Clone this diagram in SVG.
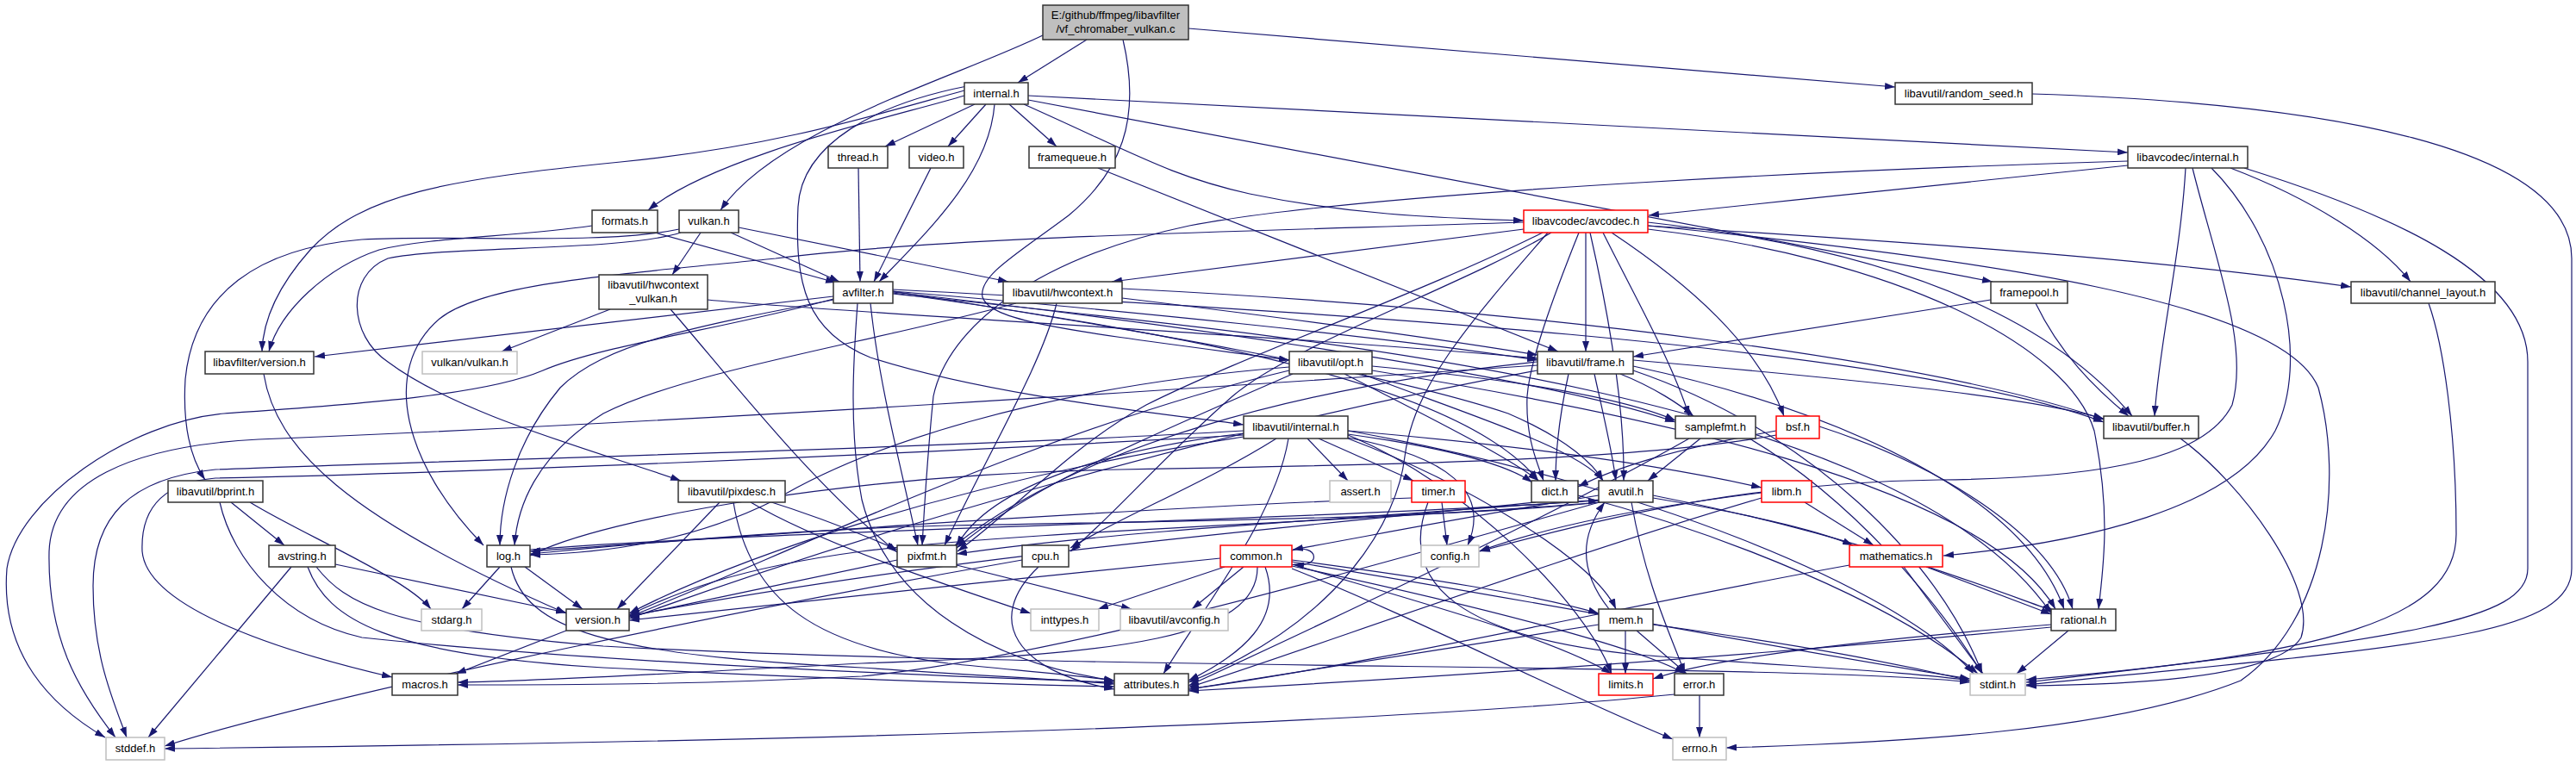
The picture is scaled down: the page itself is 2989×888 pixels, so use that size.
<svg xmlns="http://www.w3.org/2000/svg" width="2989" height="888" viewBox="0 0 2989 888">
<style>
.e{fill:none;stroke:#191970;stroke-width:1.2;marker-end:url(#a)}
.n rect{fill:#fff;stroke:#333;stroke-width:1.5}
.g rect{fill:#fff;stroke:#bfbfbf;stroke-width:1.5}
.r rect{fill:#fff;stroke:#ff0000;stroke-width:1.5}
.root rect{fill:#bfbfbf;stroke:#333;stroke-width:1.5}
text{font-family:"Liberation Sans",Arial,sans-serif;font-size:13px;fill:#000;text-anchor:middle}
</style>
<defs>
<marker id="a" markerUnits="userSpaceOnUse" markerWidth="12" markerHeight="8" refX="12" refY="4" orient="auto">
<path d="M0,0 L12,4 L0,8 z" fill="#191970"/>
</marker>
</defs>
<rect x="0" y="0" width="2989" height="888" fill="#fff"/>
<g id="edges">
<path class="e" d="M1261,46 L1181,96"/>
<path class="e" d="M1212,40 C1110,90 900,150 836,244"/>
<path class="e" d="M1379,33 L2199,101"/>
<path class="e" d="M1303,46 C1325,140 1300,200 1240,250 C1180,295 1135,320 1140,345 C1150,375 1250,385 1496,418"/>
<path class="e" d="M1119,111 C1040,135 830,180 752,244"/>
<path class="e" d="M1119,105 C1010,135 900,170 720,188 C520,208 420,225 360,290 C320,335 305,375 304,408"/>
<path class="e" d="M1122,100 C1020,120 930,165 926,240 C922,330 935,385 1010,415 C1150,460 1350,480 1443,493"/>
<path class="e" d="M1131,121 L1027,170"/>
<path class="e" d="M1144,121 L1100,170"/>
<path class="e" d="M1171,121 L1226,170"/>
<path class="e" d="M1154,121 C1148,200 1080,265 1020,327"/>
<path class="e" d="M1188,121 C1320,180 1360,205 1450,225 C1560,248 1660,253 1768,256"/>
<path class="e" d="M1193,116 L2312,327"/>
<path class="e" d="M1193,111 L2469,177"/>
<path class="e" d="M848,270 L974,327"/>
<path class="e" d="M813,270 L780,319"/>
<path class="e" d="M857,264 L1170,327"/>
<path class="e" d="M788,266 C700,285 520,272 420,278 C300,288 225,340 215,440 C212,490 220,530 238,557"/>
<path class="e" d="M790,270 C720,292 520,285 450,300 C400,320 405,390 450,420 C530,480 680,520 790,558"/>
<path class="e" d="M760,270 L970,328"/>
<path class="e" d="M687,262 C600,275 500,275 440,290 C380,310 325,360 312,408"/>
<path class="e" d="M996,195 L998,327"/>
<path class="e" d="M1080,195 L1014,327"/>
<path class="e" d="M1274,195 L1808,408"/>
<path class="e" d="M2469,192 C2300,210 2100,230 1913,250"/>
<path class="e" d="M2469,187 C2200,195 1600,220 1380,262 C1200,300 1100,380 1083,460 C1075,540 1072,600 1070,633"/>
<path class="e" d="M2536,195 C2530,300 2505,400 2500,483"/>
<path class="e" d="M2588,195 C2680,230 2760,280 2797,327"/>
<path class="e" d="M2566,195 C2650,280 2680,420 2640,500 C2590,590 2420,630 2255,645"/>
<path class="e" d="M2544,195 C2570,300 2610,400 2590,470 C2560,530 2450,555 2250,557 C2050,560 1900,590 1717,640"/>
<path class="e" d="M2604,195 C2780,250 2933,320 2933,420 L2933,660 C2933,720 2800,740 2351,792"/>
<path class="e" d="M2358,109 C2700,120 2984,170 2984,300 L2984,660 C2984,740 2800,750 2351,795"/>
<path class="e" d="M2818,352 C2835,400 2850,500 2850,620 C2850,720 2700,760 2351,789"/>
<path class="e" d="M1768,266 L1290,327"/>
<path class="e" d="M1768,258 C1400,270 1100,275 900,300 C700,320 560,330 510,370 C440,430 470,540 561,633"/>
<path class="e" d="M1800,270 C1700,330 1500,400 1430,460 C1350,530 1290,600 1242,640"/>
<path class="e" d="M1790,270 C1650,340 1450,410 1330,470 C1240,520 1180,590 1111,640"/>
<path class="e" d="M1840,270 L1840,408"/>
<path class="e" d="M1832,270 C1800,350 1775,420 1772,460 C1770,510 1785,540 1791,558"/>
<path class="e" d="M1845,270 C1870,380 1885,480 1884,558"/>
<path class="e" d="M1860,270 C1900,350 1940,420 1960,483"/>
<path class="e" d="M1870,270 C1960,330 2040,400 2070,483"/>
<path class="e" d="M1912,258 C2200,290 2380,370 2474,483"/>
<path class="e" d="M1912,262 C2200,280 2500,300 2728,333"/>
<path class="e" d="M1912,266 C2200,300 2400,400 2430,500 C2450,600 2440,660 2435,707"/>
<path class="e" d="M1796,270 C1700,380 1640,450 1630,530 C1622,600 1560,720 1379,792"/>
<path class="e" d="M1912,262 C2300,300 2650,350 2690,450 C2720,560 2700,720 2600,790 C2450,850 2200,862 2003,868"/>
<path class="e" d="M708,359 L582,408"/>
<path class="e" d="M778,359 C840,430 940,560 1041,641"/>
<path class="e" d="M821,348 C1000,365 1500,390 1784,416"/>
<path class="e" d="M1302,335 C1800,360 2250,420 2441,487"/>
<path class="e" d="M1302,346 C1500,370 1650,390 1784,412"/>
<path class="e" d="M1179,352 C1000,400 800,430 700,480 C620,530 600,590 597,633"/>
<path class="e" d="M1226,352 C1210,420 1150,520 1096,633"/>
<path class="e" d="M967,344 L365,414"/>
<path class="e" d="M967,347 C850,380 700,400 630,430 C560,460 400,470 260,480 C150,490 20,580 8,660 C0,760 60,820 122,856"/>
<path class="e" d="M967,348 C800,380 700,400 650,450 C600,510 580,580 580,633"/>
<path class="e" d="M995,352 C990,420 985,500 1000,580 C1030,700 1150,770 1293,790"/>
<path class="e" d="M1036,338 C1300,380 1600,430 1750,480 C1820,510 1850,540 1860,558"/>
<path class="e" d="M1036,336 C1500,360 2200,400 2441,490"/>
<path class="e" d="M1036,340 C1400,390 1700,450 1785,558"/>
<path class="e" d="M1036,338 C1300,360 1600,390 1784,418"/>
<path class="e" d="M1036,339 C1400,380 1800,440 1944,490"/>
<path class="e" d="M1010,352 C1020,450 1050,560 1065,633"/>
<path class="e" d="M1036,341 C1500,390 2200,450 2380,712"/>
<path class="e" d="M306,434 C320,520 400,600 657,712"/>
<path class="e" d="M1496,426 C1200,450 1000,520 900,580 C800,630 700,642 615,644"/>
<path class="e" d="M1496,430 C1200,500 900,650 730,716"/>
<path class="e" d="M1500,434 C1350,500 1200,560 1110,636"/>
<path class="e" d="M1560,434 C1650,480 1750,530 1785,558"/>
<path class="e" d="M1580,434 C1700,480 1830,520 1860,558"/>
<path class="e" d="M1592,425 C1750,440 1880,460 1944,488"/>
<path class="e" d="M1592,430 C1900,480 2300,560 2385,707"/>
<path class="e" d="M1784,424 C1400,450 800,490 300,510 C150,518 60,560 57,640 C55,740 90,800 134,856"/>
<path class="e" d="M1895,430 C2100,500 2250,650 2300,782"/>
<path class="e" d="M1850,434 C1860,480 1870,520 1875,558"/>
<path class="e" d="M1895,418 C2150,440 2350,460 2441,486"/>
<path class="e" d="M1820,434 C1810,480 1805,520 1805,558"/>
<path class="e" d="M1895,425 C2150,480 2350,580 2395,707"/>
<path class="e" d="M1880,434 C1920,450 1950,470 1965,483"/>
<path class="e" d="M1784,420 C1500,450 1250,520 1108,633"/>
<path class="e" d="M1784,430 C1400,500 1000,620 730,718"/>
<path class="e" d="M1564,505 C1700,560 1840,700 1870,782"/>
<path class="e" d="M1564,500 C1900,560 2200,680 2290,782"/>
<path class="e" d="M1443,500 C1100,520 500,535 250,545 C150,555 108,600 108,680 C108,760 130,810 147,856"/>
<path class="e" d="M1517,509 L1564,558"/>
<path class="e" d="M1564,508 C1680,530 1730,570 1703,633"/>
<path class="e" d="M1495,509 C1480,600 1400,700 1350,782"/>
<path class="e" d="M1530,509 L1640,558"/>
<path class="e" d="M1481,509 C1400,560 1300,600 1242,636"/>
<path class="e" d="M1564,504 C1680,520 1750,540 1778,560"/>
<path class="e" d="M1443,505 C1000,530 500,550 250,555 C190,560 163,590 165,640 C170,700 300,750 455,786"/>
<path class="e" d="M1564,509 C1700,560 1850,650 1875,707"/>
<path class="e" d="M1443,503 C1300,520 1150,560 1110,634"/>
<path class="e" d="M1443,507 C1100,560 850,650 730,712"/>
<path class="e" d="M1564,500 C1800,520 1950,545 2044,566"/>
<path class="e" d="M1973,509 L1912,558"/>
<path class="e" d="M1960,509 C1800,600 1500,740 1379,796"/>
<path class="e" d="M2030,509 C2150,580 2250,700 2300,782"/>
<path class="e" d="M2061,500 C1950,520 1880,540 1831,565"/>
<path class="e" d="M2061,505 C1900,535 1600,540 1300,545 C1000,550 700,600 615,645"/>
<path class="e" d="M2111,495 C2250,540 2380,620 2405,707"/>
<path class="e" d="M2530,509 C2600,560 2690,680 2670,740 C2640,790 2450,795 2351,796"/>
<path class="e" d="M268,583 L330,633"/>
<path class="e" d="M290,583 C350,620 470,670 500,707"/>
<path class="e" d="M255,583 C270,650 330,720 420,740 C700,770 1100,785 1293,792"/>
<path class="e" d="M835,583 L716,707"/>
<path class="e" d="M851,583 C870,700 950,750 1100,770 C1200,780 1260,785 1293,790"/>
<path class="e" d="M871,583 C950,630 1100,680 1196,712"/>
<path class="e" d="M886,580 C950,600 1000,620 1041,638"/>
<path class="e" d="M1673,583 L1679,633"/>
<path class="e" d="M1638,578 C1300,590 900,620 615,640"/>
<path class="e" d="M1657,583 C1620,680 1700,740 1900,760 C2100,775 2220,780 2286,790"/>
<path class="e" d="M1782,583 C1500,612 1100,645 730,715"/>
<path class="e" d="M1831,575 C2000,620 2200,700 2295,782"/>
<path class="e" d="M1855,575 C1700,600 1600,620 1500,638"/>
<path class="e" d="M1893,583 C1910,680 1940,740 1955,782"/>
<path class="e" d="M1918,575 C2150,620 2300,680 2385,710"/>
<path class="e" d="M1856,583 C1600,605 1200,615 1000,640 C850,660 780,690 730,714"/>
<path class="e" d="M1856,583 C1650,640 1250,760 1000,785 C800,795 650,795 531,795"/>
<path class="e" d="M1918,578 C2050,600 2120,620 2150,633"/>
<path class="e" d="M1858,583 C1700,600 1400,605 1100,610 C900,615 700,635 615,643"/>
<path class="e" d="M1856,580 C1600,600 1300,615 1110,643"/>
<path class="e" d="M2094,583 L2174,633"/>
<path class="e" d="M2044,578 C1800,650 1500,760 1379,798"/>
<path class="e" d="M2044,572 C1900,590 1800,610 1716,640"/>
<path class="e" d="M338,658 L172,856"/>
<path class="e" d="M389,655 L657,711"/>
<path class="e" d="M357,658 C380,720 450,760 700,775 C1000,790 1200,795 1293,797"/>
<path class="e" d="M367,658 C400,700 450,730 700,750 C1200,778 2100,770 2286,792"/>
<path class="e" d="M580,658 L536,707"/>
<path class="e" d="M609,658 L676,707"/>
<path class="e" d="M593,658 C610,730 700,760 1000,775 C1150,785 1250,790 1293,794"/>
<path class="e" d="M615,638 C900,615 1500,605 1855,581"/>
<path class="e" d="M1110,656 L1313,707"/>
<path class="e" d="M1041,650 C900,680 800,700 730,716"/>
<path class="e" d="M1205,658 C1140,720 1180,780 1293,800"/>
<path class="e" d="M1186,650 C900,700 400,800 191,866"/>
<path class="e" d="M1421,658 L1274,707"/>
<path class="e" d="M1443,658 L1383,707"/>
<path class="e" d="M1468,658 C1490,720 1440,760 1379,790"/>
<path class="e" d="M1459,658 C1460,740 1300,760 1000,770 C800,780 650,790 531,792"/>
<path class="e" d="M1416,648 C1200,670 900,700 730,720"/>
<path class="e" d="M1499,650 C1650,670 1780,690 1855,712"/>
<path class="e" d="M1499,655 C1650,700 1800,740 1870,782"/>
<path class="e" d="M1499,652 C1800,700 2100,760 2286,788"/>
<path class="e" d="M1499,657 C1700,700 1900,750 1955,782"/>
<path class="e" d="M1499,660 C1650,720 1800,800 1941,858"/>
<path class="e" d="M1499,639 C1530,630 1535,660 1501,655"/>
<path class="e" d="M2209,658 L2301,782"/>
<path class="e" d="M2235,658 L2380,713"/>
<path class="e" d="M2146,656 C1900,700 1600,770 1379,800"/>
<path class="e" d="M657,732 L529,782"/>
<path class="e" d="M1886,732 L1886,782"/>
<path class="e" d="M1899,732 L1957,782"/>
<path class="e" d="M1918,725 C2100,750 2200,770 2286,790"/>
<path class="e" d="M1855,725 C1700,750 1500,780 1379,800"/>
<path class="e" d="M1867,707 C1830,660 1835,620 1862,583"/>
<path class="e" d="M2400,732 L2340,782"/>
<path class="e" d="M2380,725 C2200,740 2000,760 1918,788"/>
<path class="e" d="M2380,728 C2000,765 1600,790 1379,802"/>
<path class="e" d="M1972,807 L1972,856"/>
<path class="e" d="M1943,806 C1600,840 1000,860 191,869"/>
<path class="e" d="M2310,348 L1895,414"/>
<path class="e" d="M2362,352 C2390,410 2430,450 2470,483"/>
</g>
<g id="n_root" class="root"><rect x="1210" y="6" width="169" height="40"/><text x="1294.5" y="22">E:/github/ffmpeg/libavfilter</text><text x="1294.5" y="38">/vf_chromaber_vulkan.c</text></g>
<g id="n_internal" class="n"><rect x="1119" y="96" width="74" height="25"/><text x="1156" y="113">internal.h</text></g>
<g id="n_random_seed" class="n"><rect x="2199" y="96" width="159" height="25"/><text x="2278.5" y="113">libavutil/random_seed.h</text></g>
<g id="n_thread" class="n"><rect x="961" y="170" width="69" height="25"/><text x="995.5" y="187">thread.h</text></g>
<g id="n_video" class="n"><rect x="1055" y="170" width="63" height="25"/><text x="1086.5" y="187">video.h</text></g>
<g id="n_framequeue" class="n"><rect x="1194" y="170" width="100" height="25"/><text x="1244" y="187">framequeue.h</text></g>
<g id="n_lc_internal" class="n"><rect x="2469" y="170" width="139" height="25"/><text x="2538.5" y="187">libavcodec/internal.h</text></g>
<g id="n_formats" class="n"><rect x="687" y="244" width="76" height="26"/><text x="725" y="261">formats.h</text></g>
<g id="n_vulkan" class="n"><rect x="788" y="244" width="69" height="26"/><text x="822.5" y="261">vulkan.h</text></g>
<g id="n_avcodec" class="r"><rect x="1768" y="244" width="144" height="26"/><text x="1840" y="261">libavcodec/avcodec.h</text></g>
<g id="n_hwcontext_vulkan" class="n"><rect x="695" y="319" width="126" height="40"/><text x="758" y="335">libavutil/hwcontext</text><text x="758" y="351">_vulkan.h</text></g>
<g id="n_avfilter" class="n"><rect x="967" y="327" width="69" height="25"/><text x="1001.5" y="344">avfilter.h</text></g>
<g id="n_hwcontext" class="n"><rect x="1164" y="327" width="138" height="25"/><text x="1233" y="344">libavutil/hwcontext.h</text></g>
<g id="n_framepool" class="n"><rect x="2310" y="327" width="89" height="25"/><text x="2354.5" y="344">framepool.h</text></g>
<g id="n_channel_layout" class="n"><rect x="2728" y="327" width="167" height="25"/><text x="2811.5" y="344">libavutil/channel_layout.h</text></g>
<g id="n_lf_version" class="n"><rect x="238" y="408" width="126" height="26"/><text x="301" y="425">libavfilter/version.h</text></g>
<g id="n_vulkan_vulkan" class="g"><rect x="490" y="408" width="110" height="26"/><text x="545" y="425">vulkan/vulkan.h</text></g>
<g id="n_opt" class="n"><rect x="1496" y="408" width="96" height="26"/><text x="1544" y="425">libavutil/opt.h</text></g>
<g id="n_frame" class="n"><rect x="1784" y="408" width="111" height="26"/><text x="1839.5" y="425">libavutil/frame.h</text></g>
<g id="n_lu_internal" class="n"><rect x="1443" y="483" width="121" height="26"/><text x="1503.5" y="500">libavutil/internal.h</text></g>
<g id="n_samplefmt" class="n"><rect x="1944" y="483" width="93" height="26"/><text x="1990.5" y="500">samplefmt.h</text></g>
<g id="n_bsf" class="r"><rect x="2061" y="483" width="50" height="26"/><text x="2086" y="500">bsf.h</text></g>
<g id="n_buffer" class="n"><rect x="2441" y="483" width="110" height="26"/><text x="2496" y="500">libavutil/buffer.h</text></g>
<g id="n_bprint" class="n"><rect x="195" y="558" width="110" height="25"/><text x="250" y="575">libavutil/bprint.h</text></g>
<g id="n_pixdesc" class="n"><rect x="787" y="558" width="124" height="25"/><text x="849" y="575">libavutil/pixdesc.h</text></g>
<g id="n_assert" class="g"><rect x="1543" y="558" width="71" height="25"/><text x="1578.5" y="575">assert.h</text></g>
<g id="n_timer" class="r"><rect x="1638" y="558" width="62" height="25"/><text x="1669" y="575">timer.h</text></g>
<g id="n_dict" class="n"><rect x="1777" y="558" width="54" height="25"/><text x="1804" y="575">dict.h</text></g>
<g id="n_avutil" class="n"><rect x="1855" y="558" width="63" height="25"/><text x="1886.5" y="575">avutil.h</text></g>
<g id="n_libm" class="r"><rect x="2044" y="558" width="58" height="25"/><text x="2073" y="575">libm.h</text></g>
<g id="n_avstring" class="n"><rect x="312" y="633" width="77" height="25"/><text x="350.5" y="650">avstring.h</text></g>
<g id="n_log" class="n"><rect x="565" y="633" width="50" height="25"/><text x="590" y="650">log.h</text></g>
<g id="n_pixfmt" class="n"><rect x="1041" y="633" width="69" height="25"/><text x="1075.5" y="650">pixfmt.h</text></g>
<g id="n_cpu" class="n"><rect x="1186" y="633" width="54" height="25"/><text x="1213" y="650">cpu.h</text></g>
<g id="n_common" class="r"><rect x="1416" y="633" width="83" height="25"/><text x="1457.5" y="650">common.h</text></g>
<g id="n_config" class="g"><rect x="1649" y="633" width="67" height="25"/><text x="1682.5" y="650">config.h</text></g>
<g id="n_mathematics" class="r"><rect x="2146" y="633" width="108" height="25"/><text x="2200" y="650">mathematics.h</text></g>
<g id="n_stdarg" class="g"><rect x="489" y="707" width="70" height="25"/><text x="524" y="724">stdarg.h</text></g>
<g id="n_version" class="n"><rect x="657" y="707" width="73" height="25"/><text x="693.5" y="724">version.h</text></g>
<g id="n_inttypes" class="g"><rect x="1196" y="707" width="79" height="25"/><text x="1235.5" y="724">inttypes.h</text></g>
<g id="n_avconfig" class="g"><rect x="1300" y="707" width="125" height="25"/><text x="1362.5" y="724">libavutil/avconfig.h</text></g>
<g id="n_mem" class="n"><rect x="1855" y="707" width="63" height="25"/><text x="1886.5" y="724">mem.h</text></g>
<g id="n_rational" class="n"><rect x="2380" y="707" width="75" height="25"/><text x="2417.5" y="724">rational.h</text></g>
<g id="n_macros" class="n"><rect x="455" y="782" width="76" height="25"/><text x="493" y="799">macros.h</text></g>
<g id="n_attributes" class="n"><rect x="1293" y="782" width="86" height="25"/><text x="1336" y="799">attributes.h</text></g>
<g id="n_limits" class="r"><rect x="1855" y="782" width="63" height="25"/><text x="1886.5" y="799">limits.h</text></g>
<g id="n_error" class="n"><rect x="1943" y="782" width="57" height="25"/><text x="1971.5" y="799">error.h</text></g>
<g id="n_stdint" class="g"><rect x="2286" y="782" width="64" height="25"/><text x="2318" y="799">stdint.h</text></g>
<g id="n_stddef" class="g"><rect x="123" y="856" width="68" height="26"/><text x="157" y="873">stddef.h</text></g>
<g id="n_errno" class="g"><rect x="1941" y="856" width="62" height="26"/><text x="1972" y="873">errno.h</text></g>
</svg>
